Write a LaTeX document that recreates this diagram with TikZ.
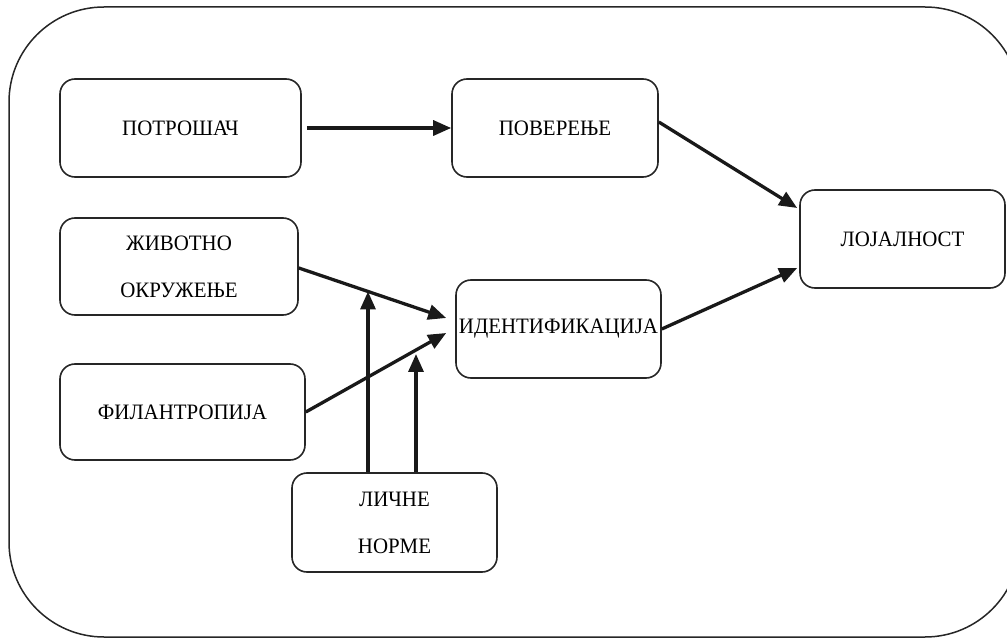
\documentclass[tikz,border=0pt]{standalone}
\usepackage{fontspec}
\setmainfont{Liberation Serif}[FakeStretch=0.95]
\usetikzlibrary{arrows.meta,intersections}
\begin{document}
\begin{tikzpicture}[x=1bp,y=-1bp,
  box/.style={draw=black!85, line width=1.6bp, rounded corners=15bp,
    inner sep=0pt, align=center,
    font=\fontsize{22bp}{47bp}\selectfont},
  arr/.style={draw=black!90, line width=3.3bp,
    -{Triangle[length=18bp,width=15bp]}}]
\useasboundingbox (0,0) rectangle (1007,639);
% outer frame
\begin{scope}
\clip (0,0) rectangle (1007,639);
\draw[black!85, line width=1.5bp, rounded corners=95bp] (9,7) rectangle (1020,637);
\end{scope}
% boxes
\node[box, minimum width=241bp, minimum height=98bp] (potr)  at (180.5,128)   {ПОТРОШАЧ};
\node[box, minimum width=206bp, minimum height=98bp] (pov)   at (555,128)     {ПОВЕРЕЊЕ};
\node[box, minimum width=205bp, minimum height=98bp] (loj)   at (902.5,239)   {ЛОЈАЛНОСТ};
\node[box, minimum width=238bp, minimum height=97bp] (ziv)   at (179,266.5)   {ЖИВОТНО\\ОКРУЖЕЊЕ};
\node[box, minimum width=205bp, minimum height=98bp] (ident) at (558.5,329)   {ИДЕНТИФИКАЦИЈА};
\node[box, minimum width=245bp, minimum height=96bp] (fil)   at (182.5,412)   {ФИЛАНТРОПИЈА};
\node[box, minimum width=205bp, minimum height=99bp] (licne) at (394.5,522.5) {ЛИЧНЕ\\НОРМЕ};
% connectors
\draw[arr, shorten <=5bp] (potr.east) -- (pov.west);
\draw[arr] ([yshift=6bp]pov.east) -- ([xshift=-2bp,yshift=31bp]loj.west);
\draw[arr] (ident.east) -- ([xshift=-2bp,yshift=-29bp]loj.west);
\draw[arr, name path=zline] ([yshift=-1.5bp]ziv.east) -- ([xshift=-9bp,yshift=11bp]ident.west);
\draw[arr, name path=fline] (fil.east) -- ([xshift=-9bp,yshift=-4bp]ident.west);
% personal norms act on both paths into identification
\path[name path=v1] (368,480) -- (368,200);
\path[name path=v2] (416,480) -- (416,200);
\path[name intersections={of=zline and v1, by=m1}];
\path[name intersections={of=fline and v2, by=m2}];
\draw[arr] (m1 |- licne.north) -- (m1);
\draw[arr, shorten >=4bp] (m2 |- licne.north) -- (m2);
\end{tikzpicture}
\end{document}
